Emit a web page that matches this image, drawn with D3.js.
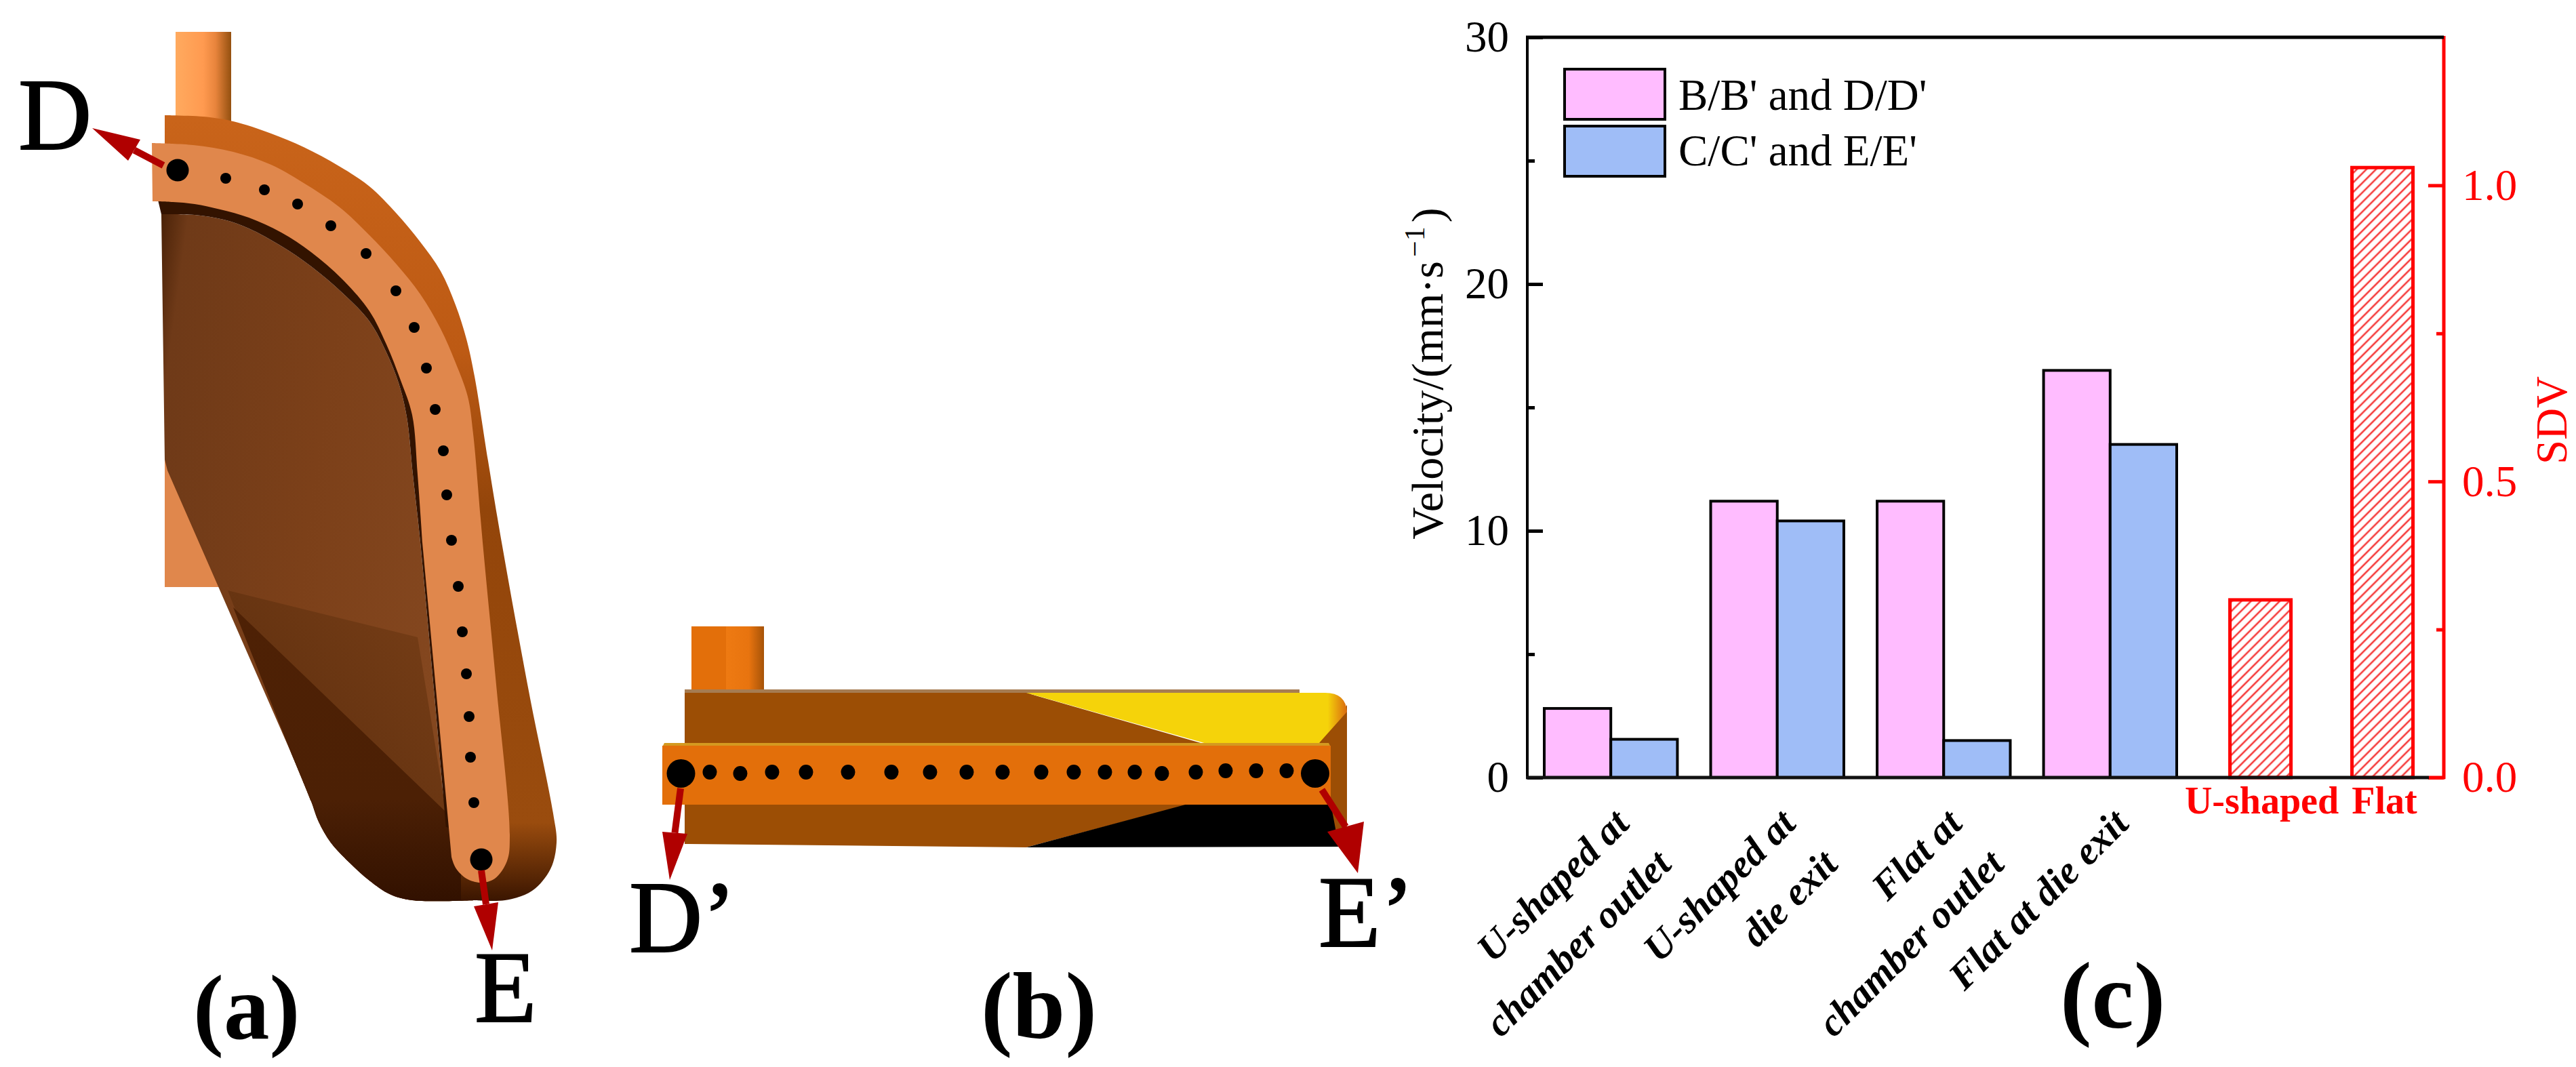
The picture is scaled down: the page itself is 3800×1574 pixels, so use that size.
<!DOCTYPE html>
<html><head><meta charset="utf-8">
<script src="https://cdnjs.cloudflare.com/ajax/libs/d3/7.8.5/d3.min.js"></script>
<style>html,body{margin:0;padding:0;background:#fff}svg{display:block}text{font-family:"Liberation Serif",serif}</style>
</head><body><svg id="c" width="3800" height="1574"></svg>
<script>
// ---------- chart data ----------
const categories = [["U-shaped at","chamber outlet"],["U-shaped at","die exit"],["Flat at","chamber outlet"],["Flat at die exit"]];
const seriesNames = ["B/B' and D/D'","C/C' and E/E'"];
const seriesB = [2.8,11.2,11.2,16.5];
const seriesC = [1.55,10.4,1.5,13.5];
const sdvCategories = ["U-shaped","Flat"];
const sdvValues = [0.30,1.03];
const leftMajor = [0,10,20,30], leftMinor = [5,15,25];
const rightMajor = [0,0.5,1.0], rightMinor = [0.25,0.75];
const panelLabels = ["(a)","(b)","(c)"];
// ---------- illustration outlines (schematic, not data) ----------
const shellOuter = [[243,170],[300,172],[344,179],[400,197],[448,217],[500,245],[545,275],[585,315],[620,357],[650,400],[672,450],[688,500],[700,555],[720,680],[740,800],[782,1030],[816,1200],[821,1243],[812,1282],[785,1314],[745,1328],[700,1328]];
const shellBack = [[680,1328],[680,1290],[690,1250],[668,800],[650,560],[550,400],[400,250],[243,215]];
const bandOuter = [[224,211],[285,214],[344,224],[400,243],[448,270],[500,305],[545,347],[585,390],[620,434],[650,485],[672,535],[690,585],[698,640],[712,800],[732,1010],[752,1233],[748,1270],[730,1296],[709,1302],[688,1296],[672,1280],[666,1264]];
const bandInner = [[623,800],[616,700],[608,612],[591,561],[570,508],[545,459],[505,412],[459,372],[415,343],[367,321],[325,309],[287,301],[255,298],[225,297]];
const innerTop = [[238,316],[287,317],[330,324],[367,337],[415,363],[459,393],[505,432],[545,474],[570,520],[588,565],[600,615],[609,700],[620,800],[658,1220]];
const innerBottom = [[700,1328],[608,1328],[575,1319],[545,1299],[515,1272],[488,1243],[470,1212],[459,1182],[430,1112]];
const innerLeft = [[247,694],[243,678]];
const a_dots = [[333,263],[390,280],[439,301],[488,333],[540,374],[584,429],[611,483],[629,543],[642,604],[654,665],[659,730],[666,797],[676,865],[682,932],[688,994],[692,1057],[694,1117],[699,1184]];
const a_bigDots = [[262,251],[710,1268]];
const b_dotsX = [1047,1092,1139,1189,1251,1315,1372,1426,1479,1536,1584,1630,1674,1714,1764,1808,1853,1898];
const b_dotsY = [1139,1141,1139,1139,1139,1139,1139,1139,1139,1139,1139,1139,1139,1141,1139,1137,1137,1137];
const b_bigDots = [[1004.5,1141],[1940,1141]];
// arrow: [x0,y0,x1,y1,headBaseL x,y,headBaseR x,y]
const arrows = [[241,244,136,189,207,206,189,237],[710,1284,726,1402,699,1337,735,1331],[1004,1163,988,1298,977,1227,1014,1230],[1950,1165,2003,1288,1958,1227,2012,1212]];

const svg = d3.select("#c");
const defs = svg.append("defs");
function grad(id,stops,x1=0,y1=0,x2=1,y2=0){const g=defs.append("linearGradient").attr("id",id).attr("x1",x1).attr("y1",y1).attr("x2",x2).attr("y2",y2);
  stops.forEach(s=>g.append("stop").attr("offset",s[0]).attr("stop-color",s[1]));}
grad("tubeA",[[0,"#ffaa5f"],[0.5,"#ff9a50"],[0.72,"#e8843c"],[1,"#94500f"]]);
grad("shell",[[0,"#c9641a"],[0.3,"#bd5a14"],[0.5,"#93450a"],[0.9,"#9a4c0e"],[1,"#3a1500"]],0,0,0,1);
grad("inner",[[0,"#4a2208"],[0.08,"#6f3a18"],[0.55,"#7c4019"],[1,"#84471f"]],0,0,1,0.3);
grad("dark1",[[0,"#55290b"],[1,"#7a4018"]],0,1,1,0);
grad("dark2",[[0,"#4e2105"],[0.65,"#4c2005"],[1,"#321100"]],0,0,0,1);
grad("tubeB",[[0,"#ee7a12"],[0.6,"#e8740f"],[1,"#a65308"]]);
grad("yelEdge",[[0,"#f5d30a"],[0.94,"#f5d30a"],[1,"#d96a10"]]);
const pat = defs.append("pattern").attr("id","hatch").attr("patternUnits","userSpaceOnUse").attr("width",10).attr("height",10).attr("patternTransform","rotate(45)");
pat.append("rect").attr("width",10).attr("height",10).attr("fill","#fff");
pat.append("line").attr("x1",5).attr("x2",5).attr("y1",0).attr("y2",10).attr("stroke","#f53c3c").attr("stroke-width",2.6);

const smooth = d3.line().curve(d3.curveCatmullRom.alpha(0.5));
const poly = d3.line();
const joinP=(...segs)=>segs.map((s,i)=>{const d=s.c?smooth(s.p):poly(s.p);return i?"L"+d.slice(1):d;}).join("")+"Z";
const a_shell = joinP({p:shellOuter,c:1},{p:shellBack});
const a_band = joinP({p:bandOuter,c:1},{p:bandInner,c:1});
const a_inner = joinP({p:innerTop,c:1},{p:innerBottom,c:1},{p:innerLeft});
const a_strip = joinP({p:innerTop,c:1},{p:[[672,1222],[680,800],[650,560],[550,380],[400,270],[227,270]]});
const lowBase = [[700,1328],[608,1328],[575,1319],[545,1299],[515,1272],[488,1243],[470,1212],[459,1182],[430,1112]];
const a_dark1 = joinP({p:[[336,871],[616,940],[662,1222]]},{p:lowBase,c:1});
const a_dark2 = joinP({p:[[344,896],[657,1197],[664,1225]]},{p:lowBase,c:1});

// ---------- panel (a) ----------
const A = svg.append("g");
const P=(g,d,f)=>g.append("path").attr("d",d).attr("fill",f);
A.append("rect").attr("x",259).attr("y",47).attr("width",82).attr("height",135).attr("fill","url(#tubeA)");
A.append("rect").attr("x",243).attr("y",660).attr("width",110).attr("height",206).attr("fill","#e0874c");
P(A,a_inner,"url(#inner)");
P(A,a_dark1,"url(#dark1)");
P(A,a_dark2,"url(#dark2)");
P(A,a_strip,"#331300");
P(A,a_shell,"url(#shell)");
P(A,a_band,"#e0874c");
A.selectAll("circle.d").data(a_dots).join("circle").attr("class","d").attr("cx",d=>d[0]).attr("cy",d=>d[1]).attr("r",8);
A.selectAll("circle.bd").data(a_bigDots).join("circle").attr("class","bd").attr("cx",d=>d[0]).attr("cy",d=>d[1]).attr("r",16.5);

// ---------- panel (b) ----------
const B = svg.append("g");
B.append("rect").attr("x",1020).attr("y",924).attr("width",51).attr("height",93).attr("fill","#e36f0a");
B.append("rect").attr("x",1071).attr("y",924).attr("width",56).attr("height",93).attr("fill","url(#tubeB)");
P(B,"M1010,1017 L1917,1017 L1917,1024 L1514,1024 L1780,1100 L1010,1100 Z","#a67c52");
P(B,"M1010,1022 L1514,1022 L1785,1100 L1010,1100 Z","#9c4e05");
P(B,"M1010,1185 L1760,1185 L1514,1250 L1010,1245 Z","#9c4e05");
P(B,"M1945,1097 L1987,1040 L1987,1247 L1965,1247 Z","#9c4e05");
P(B,"M1514,1022 L1955,1022 Q1985,1022 1987,1050 L1945,1097 L1780,1097 Z","url(#yelEdge)");
P(B,"M1756,1185 L1963,1185 L1975,1249 L1514,1250 Z","#000");
P(B,"M980,1096 L1960,1096 L1963,1102 L977,1102 Z","#d49a20");
B.append("rect").attr("x",977).attr("y",1100).attr("width",986).attr("height",87).attr("fill","#e36f0a");
B.selectAll("ellipse.d").data(b_dotsX).join("ellipse").attr("class","d").attr("cx",d=>d).attr("cy",(d,i)=>b_dotsY[i]).attr("rx",10.5).attr("ry",11);
B.selectAll("ellipse.bd").data(b_bigDots).join("ellipse").attr("class","bd").attr("cx",d=>d[0]).attr("cy",d=>d[1]).attr("rx",21).attr("ry",21);

// arrows
const AR = svg.append("g");
arrows.forEach(a=>{
  AR.append("line").attr("x1",a[0]).attr("y1",a[1]).attr("x2",(a[4]+a[6])/2).attr("y2",(a[5]+a[7])/2).attr("stroke","#b00000").attr("stroke-width",10);
  AR.append("polygon").attr("points",`${a[2]},${a[3]} ${a[4]},${a[5]} ${a[6]},${a[7]}`).attr("fill","#b00000");
});

// ---------- letters ----------
const letters = [["D",27,220],["E",700,1507],["D\u2019",928,1404],["E\u2019",1945,1396]];
svg.selectAll("text.ltr").data(letters).join("text").attr("class","ltr").attr("x",d=>d[1]).attr("y",d=>d[2]).attr("font-size",150).attr("stroke","#000").attr("stroke-width",2).text(d=>d[0]);
const plab = [[panelLabels[0],285,1532,135],[panelLabels[1],1447,1531,140],[panelLabels[2],3039,1516,140]];
svg.selectAll("text.pl").data(plab).join("text").attr("class","pl").attr("x",d=>d[1]).attr("y",d=>d[2]).attr("font-size",d=>d[3]).attr("font-weight","bold").text(d=>d[0]);

// ---------- chart (c) ----------
const X0=2253,X1=3605,Y0=1147,Y1=55;
const y = d3.scaleLinear().domain([0,30]).range([Y0,Y1]);
const yR = d3.scaleLinear().domain([0,1.25]).range([Y0,Y1]);
const xG = d3.scaleBand().domain(d3.range(categories.length)).range([2278,3211]).paddingInner(0.2);
const xS = d3.scaleBand().domain([0,1]).range([0,xG.bandwidth()]);
const xR = d3.scaleBand().domain(sdvCategories).range([3289.5,3559.5]).paddingInner(0.5);
const CH = svg.append("g");
const colors=["#ffbcff","#9fbdf7"];
[seriesB,seriesC].forEach((s,k)=>{
  CH.append("g").selectAll("rect").data(s).join("rect")
   .attr("x",(d,i)=>xG(i)+xS(k)).attr("width",xS.bandwidth())
   .attr("y",d=>y(d)).attr("height",d=>Y0-y(d))
   .attr("fill",colors[k]).attr("stroke","#000").attr("stroke-width",4);
});
CH.append("g").selectAll("rect").data(sdvValues).join("rect")
  .attr("x",(d,i)=>xR(sdvCategories[i])).attr("width",xR.bandwidth())
  .attr("y",d=>yR(d)).attr("height",d=>Y0-yR(d))
  .attr("fill","url(#hatch)").attr("stroke","#f00").attr("stroke-width",5);

function style(g,col,fs){g.select(".domain").remove();g.selectAll("line").attr("stroke",col).attr("stroke-width",5);
  g.selectAll("text").attr("fill",col).attr("font-size",fs);}
const gl=CH.append("g").attr("transform",`translate(${X0},0)`).call(d3.axisLeft(y).tickValues(leftMajor).tickSize(-23).tickPadding(27).tickFormat(d3.format("d")));
style(gl,"#000",65);
const glm=CH.append("g").attr("transform",`translate(${X0},0)`).call(d3.axisLeft(y).tickValues(leftMinor).tickSize(-11).tickFormat(""));
style(glm,"#000",65);
const gr=CH.append("g").attr("transform",`translate(${X1},0)`).call(d3.axisRight(yR).tickValues(rightMajor).tickSize(-23).tickPadding(27).tickFormat(d3.format(".1f")));
style(gr,"#f00",65);
const grm=CH.append("g").attr("transform",`translate(${X1},0)`).call(d3.axisRight(yR).tickValues(rightMinor).tickSize(-11).tickFormat(""));
style(grm,"#f00",65);
// frame
const ln=(x1,y1,x2,y2,c,w)=>CH.append("line").attr("x1",x1).attr("y1",y1).attr("x2",x2).attr("y2",y2).attr("stroke",c).attr("stroke-width",w);
ln(X0,Y1,X0,Y0,"#000",4);
ln(X1,Y1-2,X1,Y0+2,"#f00",5);
ln(X0-2,Y1,X1,Y1,"#000",5);
ln(X0-2,Y0,3583,Y0,"#111",5);
ln(3583,Y0,X1+2,Y0,"#f00",5);

// legend
seriesNames.forEach((n,i)=>{
  CH.append("rect").attr("x",2308).attr("y",102+i*84).attr("width",148).attr("height",74).attr("fill",colors[i]).attr("stroke","#000").attr("stroke-width",4);
  CH.append("text").attr("x",2476).attr("y",162+i*82).attr("font-size",65).text(n);
});
// y titles
const t=CH.append("text").attr("transform","translate(2128,551) rotate(-90)").attr("text-anchor","middle").attr("font-size",66);
t.append("tspan").text("Velocity/(mm\u00b7s");
t.append("tspan").attr("font-size",42).attr("dy",-27).attr("dx",6).text("\u22121");
t.append("tspan").attr("dy",27).attr("dx",6).text(")");
CH.append("text").attr("transform","translate(3786,620) rotate(-90)").attr("text-anchor","middle").attr("font-size",65).attr("fill","#f00").text("SDV");
// x labels
const lineEnd=[[30,1218],[92,1278]];
categories.forEach((c,i)=>c.forEach((s,j)=>{
  const cx=xG(i)+xG.bandwidth()/2+lineEnd[j][0], cy=lineEnd[j][1];
  CH.append("text").attr("transform",`translate(${cx},${cy}) rotate(-45)`).attr("text-anchor","end")
    .attr("font-size",58).attr("font-weight","bold").attr("font-style","italic").text(s);
}));
sdvCategories.forEach((s,i)=>{
  CH.append("text").attr("x",xR(s)+xR.bandwidth()/2+(i?3:2)).attr("y",1200).attr("text-anchor","middle")
   .attr("font-size",56).attr("font-weight","bold").attr("fill","#f00").text(s);
});
</script></body></html>
